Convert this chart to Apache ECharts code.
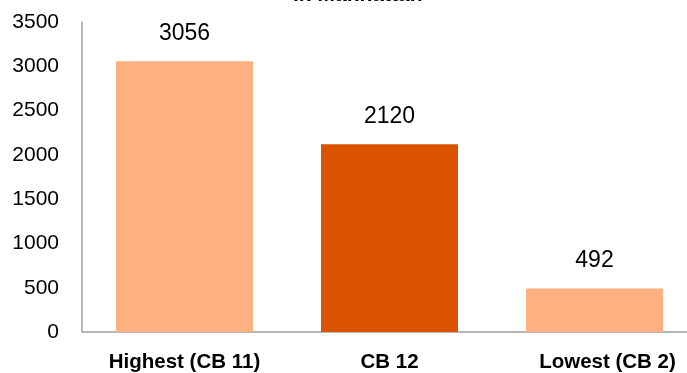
<!DOCTYPE html>
<html>
<head>
<meta charset="utf-8">
<script src="https://cdn.jsdelivr.net/npm/echarts@6/dist/echarts.min.js"></script>
<style>html,body{margin:0;padding:0;background:#fff;overflow:hidden;}#c{width:697px;height:373px;}</style>
</head>
<body>
<div id="c"></div>
<script>
const categories = ['Highest (CB 11)', 'CB 12', 'Lowest (CB 2)'];
const values = [3056, 2120, 492];
const barColors = ['#FFB080', '#DA5300', '#FFB080'];
const titleText = 'in Manhattan';

const chart = echarts.init(document.getElementById('c'));
chart.setOption({
  animation: false,
  title: {
    text: titleText,
    left: 293, top: -15, padding: 0,
    textStyle: { fontFamily: 'Liberation Sans', fontWeight: 'bold', fontSize: 21, color: '#000' }
  },
  grid: { left: 82, right: 0, top: 22, bottom: 41 },
  xAxis: {
    type: 'category',
    data: categories.map((c, i) => i === 2 ? { value: c, textStyle: { padding: [0, 0, 0, 26] } } : c),
    axisLine: { lineStyle: { color: '#A0A0A0', width: 1.5 } },
    axisTick: { show: false },
    axisLabel: { margin: 20, fontFamily: 'Liberation Sans', fontWeight: 'bold', fontSize: 20.5, color: '#000', hideOverlap: false }
  },
  yAxis: {
    type: 'value',
    min: 0, max: 3500, interval: 500,
    splitLine: { show: false },
    axisLine: { show: true, lineStyle: { color: '#A0A0A0', width: 1.5 } },
    axisTick: { show: false },
    axisLabel: { margin: 23, fontFamily: 'Liberation Sans', fontSize: 21, color: '#000', formatter: v => String(v) }
  },
  series: [{
    type: 'bar',
    data: values.map((v, i) => ({ value: v, itemStyle: { color: barColors[i] } })),
    barWidth: 137,
    label: { show: true, position: 'top', distance: 16, fontFamily: 'Liberation Sans', fontSize: 23, color: '#000' }
  }]
});
</script>
</body>
</html>
